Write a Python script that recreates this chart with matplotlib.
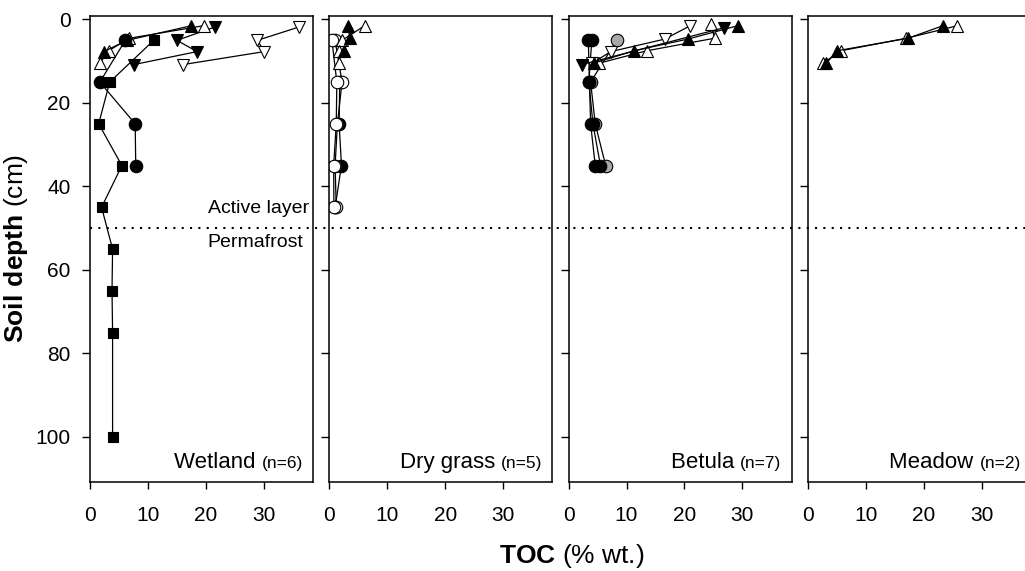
import matplotlib.pyplot as plt
from matplotlib.lines import Line2D
from matplotlib.transforms import blended_transform_factory

plt.rcParams['font.family'] = ['Liberation Sans', 'DejaVu Sans']
plt.rcParams['mathtext.fontset'] = 'custom'
plt.rcParams['mathtext.rm'] = 'Liberation Sans'
plt.rcParams['mathtext.bf'] = 'Liberation Sans:bold'

# ---- data: TOC (% wt.) vs depth (cm) ----
# Wetland (n=6)
wet_sq_depth = [5, 15, 25, 35, 45, 55, 65, 75, 100]
wet_sq_toc = [11.0, 3.4, 1.5, 5.5, 2.0, 3.9, 3.8, 3.9, 3.9]
wet_ci_depth = [5, 15, 25, 35]
wet_ci_toc = [6.1, 1.7, 7.8, 7.9]
wet_tu_depth = [1.5, 5, 7.7]
wet_tu_toc = [17.5, 6.4, 2.4]
wet_otu_depth = [1.5, 4.5, 7.5, 10.5]
wet_otu_toc = [19.6, 6.8, 3.2, 1.7]
wet_td_depth = [1.8, 5, 7.7, 10.8]
wet_td_toc = [21.6, 15.0, 18.5, 7.6]
wet_otd_depth = [1.8, 5, 7.7, 10.8]
wet_otd_toc = [36.1, 28.9, 30.1, 16.1]

# Dry grass (n=5)
dry_oc1_depth = [5, 15, 25, 35, 45]
dry_oc1_toc = [0.45, 1.3, 1.2, 0.75, 0.8]
dry_oc2_depth = [5, 15, 25, 35, 45]
dry_oc2_toc = [1.0, 2.2, 1.4, 1.0, 1.2]
dry_fc_depth = [15, 25, 35, 45]
dry_fc_toc = [1.8, 1.7, 2.1, 1.0]
dry_tu_depth = [1.5, 4.5, 7.5]
dry_tu_toc = [3.3, 3.5, 2.5]
dry_otu_depth = [1.5, 5, 7.5, 10.5]
dry_otu_toc = [6.1, 2.2, 1.7, 1.6]

# Betula (n=7)
bet_tu_depth = [1.5, 4.7, 7.5, 10.5]
bet_tu_toc = [29.2, 20.6, 11.3, 4.3]
bet_td_depth = [2.0, 10.8]
bet_td_toc = [26.8, 2.3]
bet_otu_depth = [1.2, 4.5, 7.5, 10.5]
bet_otu_toc = [24.6, 25.2, 13.5, 5.2]
bet_otd_depth = [1.5, 4.7, 7.7, 10.5]
bet_otd_toc = [21.0, 16.6, 7.3, 4.0]
bet_fc1_depth = [5, 15, 25, 35]
bet_fc1_toc = [3.4, 3.6, 3.8, 4.6]
bet_fc2_depth = [5, 15, 25, 35]
bet_fc2_toc = [4.0, 3.5, 4.2, 5.5]
bet_gc_depth = [5, 15, 25, 35]
bet_gc_toc = [8.3, 3.8, 4.6, 6.4]

# Meadow (n=2)
mea_tu_depth = [1.5, 4.5, 7.5, 10.5]
mea_tu_toc = [23.3, 17.3, 5.0, 3.2]
mea_otu_depth = [1.5, 4.5, 7.5, 10.5]
mea_otu_toc = [25.8, 17.0, 5.7, 2.6]

panel_names = ['Wetland', 'Dry grass', 'Betula', 'Meadow']
panel_n = ['(n=6)', '(n=5)', '(n=7)', '(n=2)']
boundary_depth = 50
x_ticks = [0, 10, 20, 30]
y_ticks = [0, 20, 40, 60, 80, 100]

# marker styles
SQ = dict(marker='s', ms=6.5, mfc='black')
FC = dict(marker='o', ms=9, mfc='black')
OC = dict(marker='o', ms=9, mfc='white')
GC = dict(marker='o', ms=9, mfc='#a8a8a8')
TU = dict(marker='^', ms=9, mfc='black')
OTU = dict(marker='^', ms=9, mfc='white')
TD = dict(marker='v', ms=9, mfc='black')
OTD = dict(marker='v', ms=9, mfc='white')

panels = [
    [(wet_otd_toc, wet_otd_depth, OTD), (wet_td_toc, wet_td_depth, TD),
     (wet_otu_toc, wet_otu_depth, OTU), (wet_tu_toc, wet_tu_depth, TU),
     (wet_ci_toc, wet_ci_depth, FC), (wet_sq_toc, wet_sq_depth, SQ)],
    [(dry_fc_toc, dry_fc_depth, FC), (dry_oc2_toc, dry_oc2_depth, OC),
     (dry_oc1_toc, dry_oc1_depth, OC), (dry_otu_toc, dry_otu_depth, OTU),
     (dry_tu_toc, dry_tu_depth, TU)],
    [(bet_gc_toc, bet_gc_depth, GC), (bet_fc2_toc, bet_fc2_depth, FC),
     (bet_fc1_toc, bet_fc1_depth, FC), (bet_otd_toc, bet_otd_depth, OTD),
     (bet_otu_toc, bet_otu_depth, OTU), (bet_td_toc, bet_td_depth, TD),
     (bet_tu_toc, bet_tu_depth, TU)],
    [(mea_otu_toc, mea_otu_depth, OTU), (mea_tu_toc, mea_tu_depth, TU)],
]

W, H = 1025, 571
fig = plt.figure(figsize=(W / 100, H / 100), dpi=100)

left0 = 90 / W
step = 239.3 / W
width = 223 / W
bottom = 1 - 482 / H
height = (482 - 15.7) / H

axes = []
for i, series in enumerate(panels):
    ax = fig.add_axes([left0 + i * step, bottom, width, height])
    for x, y, st in series:
        ax.plot(x, y, color='black', lw=0.9, mec='black', mew=0.8, **st)
    ax.set_xlim(0, 38.5)
    ax.set_ylim(110.8, -0.9)
    ax.set_xticks(x_ticks)
    ax.set_yticks(y_ticks)
    for s in ax.spines.values():
        s.set_linewidth(1.1)
    ax.tick_params(axis='x', direction='out', length=5, width=1, pad=12, labelsize=15)
    ax.tick_params(axis='y', direction='out', length=6, width=1, pad=8, labelsize=15)
    if i > 0:
        ax.set_yticklabels([])
    t1 = ax.text(0.955, 0.03, panel_n[i], transform=ax.transAxes, ha='right',
                 va='baseline', fontsize=12.5)
    ax.annotate(panel_names[i] + ' ', xy=(0, 0.03), xycoords=(t1, ax.transAxes),
                ha='right', va='baseline', fontsize=16)
    axes.append(ax)

ax1 = axes[0]
ax1.set_ylabel(r'$\mathbf{Soil\ depth}$ (cm)', fontsize=19, labelpad=4)
ax1.text(37.8, 45.3, 'Active layer', ha='right', va='center', fontsize=14)
ax1.text(36.8, 53.5, 'Permafrost', ha='right', va='center', fontsize=14)

tr = blended_transform_factory(fig.transFigure, ax1.transData)
fig.add_artist(Line2D([left0, 1.0], [boundary_depth, boundary_depth], transform=tr,
                      color='black', lw=1.5, linestyle=(0, (1, 3))))

fig.text(572 / W, 1 - 556 / H, r'$\mathbf{TOC}$ (% wt.)', ha='center', va='center',
         fontsize=19)

fig.savefig('out.png', dpi=100)
